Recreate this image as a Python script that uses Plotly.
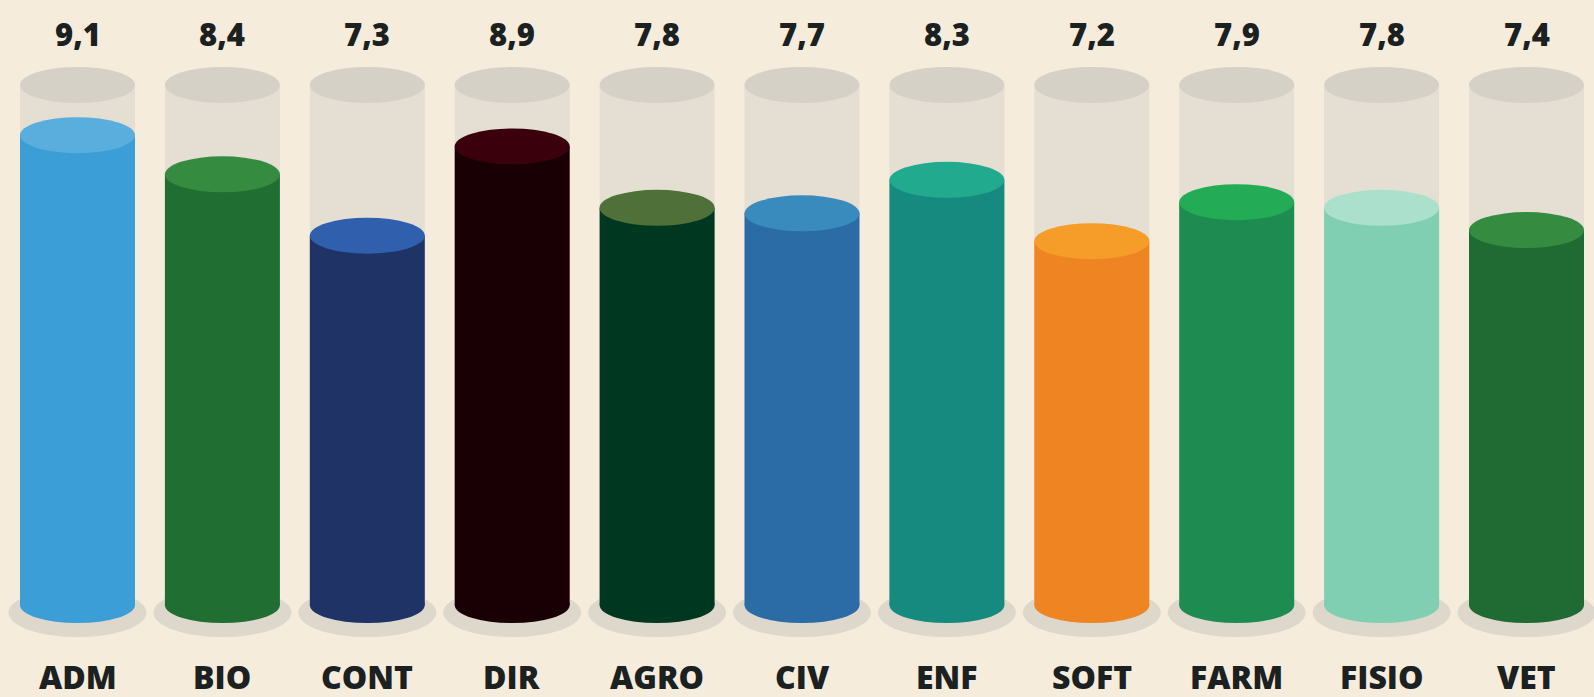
import plotly.graph_objects as go

categories = ["ADM", "BIO", "CONT", "DIR", "AGRO", "CIV", "ENF", "SOFT", "FARM", "FISIO", "VET"]
values = [9.1, 8.4, 7.3, 8.9, 7.8, 7.7, 8.3, 7.2, 7.9, 7.8, 7.4]
value_labels = ["9,1", "8,4", "7,3", "8,9", "7,8", "7,7", "8,3", "7,2", "7,9", "7,8", "7,4"]
body_colors = ["#3b9ed6", "#216e33", "#1f3366", "#180004", "#003720", "#2b6ca6",
               "#178a7f", "#ef8522", "#1e8b51", "#80cfb2", "#206b33"]
top_colors = ["#5aaedd", "#358b40", "#2f5fad", "#3a000b", "#4f7039", "#3a8bbd",
              "#22aa8e", "#f59d28", "#23ab56", "#abe0cc", "#358b40"]

GLASS_MAX = 10.0
BASE = 0.68

W, H = 1594, 697
PX_X = 144.9          # pixels per category step
PX_Y = 55.8           # pixels per value unit
X0_PX = 77.5          # pixel of first category centre
Y0_PX = 643.0         # pixel of value 0

x_range = [-X0_PX / PX_X, (W - X0_PX) / PX_X]
y_range = [-(H - Y0_PX) / PX_Y, Y0_PX / PX_Y]

half_w = 57.5 / PX_X
ry = 18.0 / PX_Y
shadow_rx = 69.0 / PX_X
shadow_ry = 24.5 / PX_Y
shadow_dy = 7.5 / PX_Y

BG = "#f5ecdc"
GLASS = "#e5dfd3"
GLASS_TOP = "#d5d1c7"
SHADOW = "#ddd7cc"
TEXT = "#1b2020"

fig = go.Figure()
# invisible trace to establish axes
fig.add_trace(go.Scatter(x=list(range(len(categories))), y=values, mode="markers",
                         marker=dict(opacity=0), hoverinfo="skip", showlegend=False))

shapes = []
annotations = []
for i, (cat, v, lab, bc, tc) in enumerate(zip(categories, values, value_labels, body_colors, top_colors)):
    # shadow
    shapes.append(dict(type="circle", xref="x", yref="y",
                       x0=i - shadow_rx, x1=i + shadow_rx,
                       y0=BASE - shadow_dy - shadow_ry, y1=BASE - shadow_dy + shadow_ry,
                       fillcolor=SHADOW, line=dict(width=0), layer="below"))
    # glass body
    shapes.append(dict(type="rect", xref="x", yref="y",
                       x0=i - half_w, x1=i + half_w, y0=BASE, y1=GLASS_MAX,
                       fillcolor=GLASS, line=dict(width=0), layer="below"))
    # glass top
    shapes.append(dict(type="circle", xref="x", yref="y",
                       x0=i - half_w, x1=i + half_w, y0=GLASS_MAX - ry, y1=GLASS_MAX + ry,
                       fillcolor=GLASS_TOP, line=dict(width=0), layer="below"))
    # liquid bottom
    shapes.append(dict(type="circle", xref="x", yref="y",
                       x0=i - half_w, x1=i + half_w, y0=BASE - ry, y1=BASE + ry,
                       fillcolor=bc, line=dict(width=0), layer="below"))
    # liquid body
    shapes.append(dict(type="rect", xref="x", yref="y",
                       x0=i - half_w, x1=i + half_w, y0=BASE, y1=v,
                       fillcolor=bc, line=dict(width=0), layer="below"))
    # liquid top
    shapes.append(dict(type="circle", xref="x", yref="y",
                       x0=i - half_w, x1=i + half_w, y0=v - ry, y1=v + ry,
                       fillcolor=tc, line=dict(width=0), layer="below"))
    annotations.append(dict(x=i, y=(Y0_PX - 34) / PX_Y, xref="x", yref="y", text=lab,
                            showarrow=False, xanchor="center", yanchor="middle",
                            font=dict(family="Open Sans", size=31, color=TEXT, weight=800)))
    annotations.append(dict(x=i, y=(Y0_PX - 676) / PX_Y, xref="x", yref="y", text=cat,
                            showarrow=False, xanchor="center", yanchor="middle",
                            font=dict(family="Open Sans", size=32, color=TEXT, weight=800)))

fig.update_layout(
    width=W, height=H,
    margin=dict(l=0, r=0, t=0, b=0),
    paper_bgcolor=BG, plot_bgcolor=BG,
    shapes=shapes, annotations=annotations,
    xaxis=dict(range=x_range, visible=False, fixedrange=True),
    yaxis=dict(range=y_range, visible=False, fixedrange=True),
    showlegend=False,
)

fig.write_html("out.html", config=dict(displayModeBar=False),
               post_script="document.body.style.margin='0';document.body.style.overflow='hidden';"
                           "document.body.style.background='" + BG + "';")
